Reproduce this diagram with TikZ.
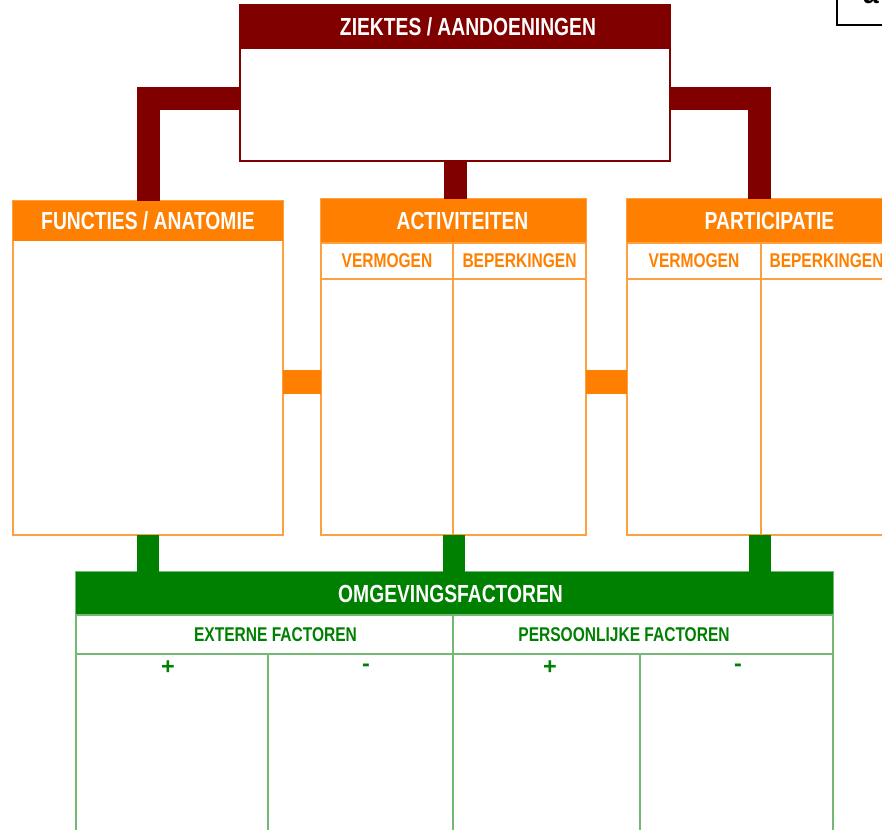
\documentclass[tikz,border=0pt]{standalone}
\usepackage{fontspec}
\setmainfont{Liberation Sans}
\newfontfamily\narrowfont{Liberation Sans}[FakeStretch=0.78]
\usepackage{tikz}

\definecolor{ziekred}{HTML}{800000}
\definecolor{actorange}{HTML}{FF8000}
\definecolor{omggreen}{HTML}{008000}

\newlength\px
\setlength\px{0.03cm}

\tikzset{
	box/.style 2 args={anchor=north west, inner sep=0pt, outer sep=0pt, minimum width=#1*\px, minimum height=#2*\px},
	headtext/.style={text=white, font=\narrowfont\bfseries\fontsize{21.1}{24}\selectfont},
	subtext/.style={font=\narrowfont\bfseries\fontsize{17}{20}\selectfont},
	signtext/.style={text=omggreen, font=\bfseries\fontsize{20}{22}\selectfont},
	orangeline/.style={draw=actorange!75, line width=1.5*\px},
	greenline/.style={draw=omggreen!55, line width=1.5*\px},
	ziekbar/.style={draw=ziekred, line width=23*\px, line join=miter},
	orangebar/.style={draw=actorange, line width=24*\px},
	greenbar/.style={draw=omggreen, line width=22*\px}
}

\begin{document}
\begin{tikzpicture}[x=0.03cm, y=-0.03cm]
	
	\useasboundingbox (0,0) rectangle (882,830);
	
	% ziektes
	\node[box={430}{156}, draw=ziekred, line width=2*\px] (ziek) at (240,5) {};
	\node[box={430}{44}, fill=ziekred] (ziekhd) at (240,5) {};
	\node[headtext] (ziektxt) at ([xshift=13*\px]ziekhd.center) {ZIEKTES / AANDOENINGEN};
	
	% functies
	\node[box={270}{334}, orangeline] (func) at (13,201) {};
	\node[box={270}{40}, fill=actorange] (funchd) at (13,201) {};
	\node[headtext] (functxt) at (funchd.center) {FUNCTIES / ANATOMIE};
	
	% activiteiten
	\node[box={265}{336}, orangeline] (act) at (321,199) {};
	\node[box={265}{44}, fill=actorange] (acthd) at (321,199) {};
	\node[headtext] (acttxt) at ([xshift=9*\px]acthd.center) {ACTIVITEITEN};
	\node[box={132}{36}, orangeline, subtext, text=actorange] (actverm) at (acthd.south west) {VERMOGEN};
	\node[box={133}{36}, orangeline, subtext, text=actorange] (actbep) at (actverm.north east) {BEPERKINGEN};
	\draw[orangeline] (actverm.south east) -- (actverm.south east |- act.south);
	
	% participatie
	\node[box={265}{336}, orangeline] (part) at (627,199) {};
	\node[box={265}{44}, fill=actorange] (parthd) at (627,199) {};
	\node[headtext] (parttxt) at ([xshift=10*\px]parthd.center) {PARTICIPATIE};
	\node[box={134}{36}, orangeline, subtext, text=actorange] (partverm) at (parthd.south west) {VERMOGEN};
	\node[box={131}{36}, orangeline, subtext, text=actorange] (partbep) at (partverm.north east) {BEPERKINGEN};
	\draw[orangeline] (partverm.south east) -- (partverm.south east |- part.south);
	
	% omgevingsfactoren
	\node[box={757}{290}, greenline] (omg) at (76,572) {};
	\node[box={757}{43}, fill=omggreen] (omghd) at (76,572) {};
	\node[headtext] (omgtxt) at ([xshift=-4*\px]omghd.center) {OMGEVINGSFACTOREN};
	\node[box={377}{39}, greenline] (omgext) at (omghd.south west) {};
	\node[box={380}{39}, greenline] (omgpers) at (omgext.north east) {};
	\node[subtext, text=omggreen] (exttxt) at ([xshift=11*\px]omgext.center) {EXTERNE FACTOREN};
	\node[subtext, text=omggreen] (perstxt) at ([xshift=-19*\px]omgpers.center) {PERSOONLIJKE FACTOREN};
	\draw[greenline] (omgext.south east) -- (omgext.south east |- omg.south);
	\draw[greenline] (omgext.south west) ++(192,0) coordinate (extdiv) -- (extdiv |- omg.south);
	\draw[greenline] (omgpers.south west) ++(187,0) coordinate (persdiv) -- (persdiv |- omg.south);
	\node[signtext] (extplus) at (168,668) {+};
	\node[signtext] (extmin) at (366,668) {-};
	\node[signtext] (persplus) at (550,668) {+};
	\node[signtext] (persmin) at (738,668) {-};
	
	% verbindingen
	\draw[ziekbar] (ziek.west) ++(0,15) -| (func.north);
	\draw[ziekbar] (ziek.east) ++(0,15) -| (part.north);
	\draw[ziekbar] (ziek.south) -- (ziek.south |- act.north);
	\draw[orangebar] (func.east) ++(0,14) coordinate (fa) -- (fa -| act.west);
	\draw[orangebar] (act.east) ++(0,15) coordinate (ap) -- (ap -| part.west);
	\draw[greenbar] (func.south) -- (func.south |- omg.north);
	\draw[greenbar] (act.south) -- (act.south |- omg.north);
	\draw[greenbar] (part.south) -- (part.south |- omg.north);
	
	% hoek
	\node[box={60}{40}, draw=black, line width=2*\px] (corner) at (837,-15) {};
	\node[anchor=base west, font=\bfseries\fontsize{24}{24}\selectfont] (cornertxt) at (859,3) {a};
	
\end{tikzpicture}
\end{document}
